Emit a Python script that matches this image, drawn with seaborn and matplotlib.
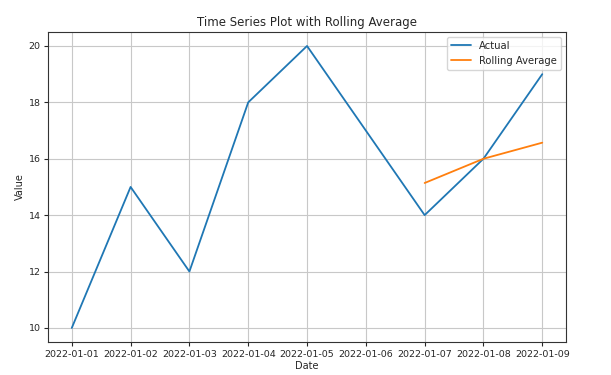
import matplotlib
matplotlib.use("Agg")
from matplotlib import pyplot as plt
import pandas as pd
import seaborn as sns

# data
dates = ['2022-01-01', '2022-01-02', '2022-01-03', '2022-01-04', '2022-01-05',
         '2022-01-06', '2022-01-07', '2022-01-08', '2022-01-09']
values = [10, 15, 12, 18, 20, 17, 14, 16, 19]
roll_dates = ['2022-01-07', '2022-01-08', '2022-01-09']
roll_values = [15.14, 16.0, 16.57]

df = pd.DataFrame({'Date': pd.to_datetime(dates), 'Value': values})
roll = pd.DataFrame({'Date': pd.to_datetime(roll_dates), 'Value': roll_values})

sns.set_style("ticks")
plt.rcParams['font.family'] = ['DejaVu Sans']
fig, ax = plt.subplots(figsize=(6.11, 3.75), dpi=100)
fig.subplots_adjust(left=0.079, right=0.926, bottom=0.088, top=0.915)

sns.lineplot(ax=ax, data=df, x='Date', y='Value', color='#1f77b4',
             label='Actual', linewidth=1.3)
sns.lineplot(ax=ax, data=roll, x='Date', y='Value', color='#ff7f0e',
             label='Rolling Average', linewidth=1.3)

ax.set_xticks(df['Date'])
ax.set_xticklabels(dates)
ax.set_ylim(9.5, 20.5)
ax.grid(True, color='#c8c8c8', linewidth=0.8)
ax.tick_params(labelsize=6.8, pad=2.5, length=3)
for s in ax.spines.values():
    s.set_color('#333333')
    s.set_linewidth(0.8)
ax.set_title('Time Series Plot with Rolling Average', fontsize=8.5, pad=4)
ax.set_xlabel('Date', fontsize=7, labelpad=2)
ax.set_ylabel('Value', fontsize=7, labelpad=3)
ax.legend(loc='upper right', fontsize=7.2)

plt.savefig('out.png')
